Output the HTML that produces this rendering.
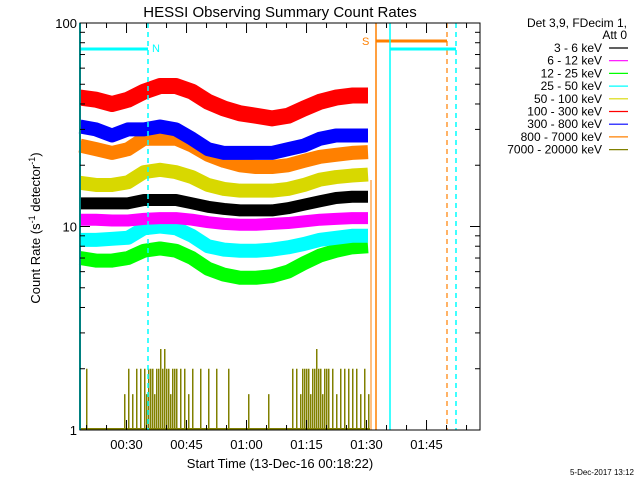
<!DOCTYPE html>
<html><head><meta charset="utf-8"><style>
body{margin:0;background:#fff;width:640px;height:480px;overflow:hidden}
svg{display:block;font-family:"Liberation Sans",sans-serif}
</style></head><body>
<svg id="chart" width="640" height="480">
<rect x="0" y="0" width="640" height="480" fill="#fff"/>
<text x="280" y="17" text-anchor="middle" font-size="15">HESSI Observing Summary Count Rates</text>
<text x="280" y="468" text-anchor="middle" font-size="13">Start Time (13-Dec-16 00:18:22)</text>
<text transform="translate(40,228) rotate(-90)" text-anchor="middle" font-size="13">Count Rate (s<tspan dy="-5" font-size="9">-1</tspan><tspan dy="5"> detector</tspan><tspan dy="-5" font-size="9">-1</tspan><tspan dy="5">)</tspan></text>
<text x="634" y="475" text-anchor="end" font-size="8">5-Dec-2017 13:12</text>
<g id="series"></g>
<g id="marks"></g>
<g id="axes"></g>
<g id="legend"></g>
</svg>
<script>
const times=[0,4,8,12,16,20,24,28,32,36,40,44,48,52,56,60,64,68,72];
const labels=['3 - 6 keV','6 - 12 keV','12 - 25 keV','25 - 50 keV','50 - 100 keV','100 - 300 keV','300 - 800 keV','800 - 7000 keV','7000 - 20000 keV'];
const colors=['#000','#ff00ff','#00ff00','#00ffff','#d8d800','#ff0000','#0000ff','#ff8000','#808000'];
const black=[13,13,13,13,13.5,13.5,13.5,13,12.5,12.2,12,12,12,12.3,12.8,13.3,13.8,14,14];
const magenta=[10.8,10.8,10.7,10.7,10.9,11,11,10.8,10.5,10.3,10.2,10.2,10.3,10.4,10.6,10.8,10.9,11,11];
const green=[7,6.8,6.8,7,7.6,7.8,7.6,7,6.2,5.8,5.6,5.6,5.7,6,6.6,7.2,7.6,7.9,8];
const cyan=[8.6,8.6,8.7,8.8,9.8,10,9.8,9,8,7.7,7.6,7.6,7.7,7.9,8.2,8.6,8.8,9,9];
const yellow=[16.4,16,16,16.5,18.5,19,18.5,17.5,16,15.3,15,15,15,15.3,16,17,17.5,17.8,18];
const red=[43,42,40,42,46,49,49,46,41,38,36,35,34,35,38,41,43,44,44];
const blue=[31,30,28,30,30,31,30,27,24,23,23,23,23,24,25,27,28,28,28];
const orange=[25,24,23,24,27,27,27,25,22.5,21,20,19.6,19.6,20,21,22,22.5,23,23.2];
const oliveMin=[1.5,11,12,13,14,15,16,16.5,17,17.5,18,18.5,19,19.5,20,20.5,21,21.5,22,22.5,23,23.5,24,25,26,27,28,30,32,34,37,42,47,53,54,55,55.5,56,56.5,57,57.5,58,58.5,59,59.5,60,60.5,61,61.5,62,63,64,65,66,67,68,69,70,71,72];
const olive=[2,1.5,2,1.5,2,2,2,1.5,2,2,2,1.5,2,2,2.5,2,2.5,2,2,1.5,2,2,2,2,2,1.5,2,2,2,2,2,1.5,1.5,2,2,1.5,2,2,2,2,1.5,2,2,2.5,2,2,1.5,2,2,2,2,1.5,2,2,2,2,2,1.5,2,1.5];
const yTickVals=[1,2,3,4,5,6,7,8,9,10,20,30,40,50,60,70,80,90,100];
const xMajor=[11.633,26.633,41.633,56.633,71.633,86.633];
const xMajorLabels=['00:30','00:45','01:00','01:15','01:30','01:45'];
const L=80,R=480,T=23,B=430;
const xs=t=>L+t*(R-L)/100;
const ys=v=>B-203.5*Math.log10(v);
const NS='http://www.w3.org/2000/svg';
function mk(tag,attrs,parent){const e=document.createElementNS(NS,tag);for(const k in attrs)e.setAttribute(k,attrs[k]);parent.appendChild(e);return e;}
const sg=document.getElementById('series');
const order=[[green,2],[cyan,3],[magenta,1],[black,0],[yellow,4],[orange,7],[blue,6],[red,5]];
const widths={2:14,3:14,1:12,0:12,4:14,7:14,6:14,5:16};
order.forEach(([arr,i])=>{
 const p=mk('polyline',{points:arr.map((v,k)=>xs(times[k])+','+ys(v)).join(' '),fill:'none',stroke:colors[i],'stroke-width':widths[i],'stroke-linejoin':'round'},sg);
 
 
});
olive.forEach((v,k)=>{
 const r=mk('rect',{x:xs(oliveMin[k]),y:ys(v),width:1.5,height:B-ys(v),fill:colors[8]},sg);
 
 
});
mk('line',{x1:L,y1:B-1,x2:xs(72.5),y2:B-1,stroke:colors[8],'stroke-width':2},sg);
const m=document.getElementById('marks');
const lines=[
 [80,23,80,430,'#00ffff',2,''],[148,23,148,430,'#00ffff',1.5,'5,4'],[80,49,148,49,'#00ffff',3,''],
 [376,23,376,430,'#ff8000',1.5,''],[376,41,447,41,'#ff8000',3,''],[447,23,447,430,'#ff8000',1.2,'5,4'],
 [390,23,390,430,'#00ffff',1.5,''],[390,49,456,49,'#00ffff',3,''],[456,23,456,430,'#00ffff',1.5,'5,4'],
 [371,180,371,430,'#ff8000',1,'']];
lines.forEach(l=>{const e=mk('line',{x1:l[0],y1:l[1],x2:l[2],y2:l[3],stroke:l[4],'stroke-width':l[5]},m);if(l[6])e.setAttribute('stroke-dasharray',l[6]);
 
 });
const tn=mk('text',{x:152,y:52,fill:'#00ffff','font-size':11},m);tn.textContent='N';


const ts=mk('text',{x:362,y:45,fill:'#ff8000','font-size':11},m);ts.textContent='S';


const ax=document.getElementById('axes');
const fr=mk('rect',{x:L,y:T,width:R-L,height:B-T,fill:'none',stroke:'#000','stroke-width':1},ax);


yTickVals.forEach(v=>{
 const major=[1,10,100].includes(v);const len=major?10:5;const y=ys(v);
 mk('line',{x1:L,y1:y,x2:L+len,y2:y,stroke:'#000'},ax);
 mk('line',{x1:R,y1:y,x2:R-len,y2:y,stroke:'#000'},ax);
 if(major){const t=mk('text',{x:L-3,y:y+5,'text-anchor':'end','font-size':13},ax);t.textContent=v;
  
  }
});
for(let t=1.633;t<100;t+=5){const x=xs(t);const major=xMajor.some(a=>Math.abs(a-t)<0.01);const len=major?10:5;
 mk('line',{x1:x,y1:B,x2:x,y2:B-len,stroke:'#000'},ax);mk('line',{x1:x,y1:T,x2:x,y2:T+len,stroke:'#000'},ax);}
xMajor.forEach((t,i)=>{const e=mk('text',{x:xs(t),y:449,'text-anchor':'middle','font-size':13},ax);e.textContent=xMajorLabels[i];
 
 });
const lg=document.getElementById('legend');
const h1=mk('text',{x:627,y:27,'text-anchor':'end','font-size':12},lg);h1.textContent='Det 3,9, FDecim 1,';


const h2=mk('text',{x:627,y:39,'text-anchor':'end','font-size':12},lg);h2.textContent='Att 0';


labels.forEach((lab,i)=>{const y=52+12.7*i;
 const t=mk('text',{x:602,y:y,'text-anchor':'end','font-size':12},lg);t.textContent=lab;
 
 
 mk('line',{x1:609,y1:y-4,x2:628,y2:y-4,stroke:colors[i],'stroke-width':1.2},lg);});
</script>
</body></html>
